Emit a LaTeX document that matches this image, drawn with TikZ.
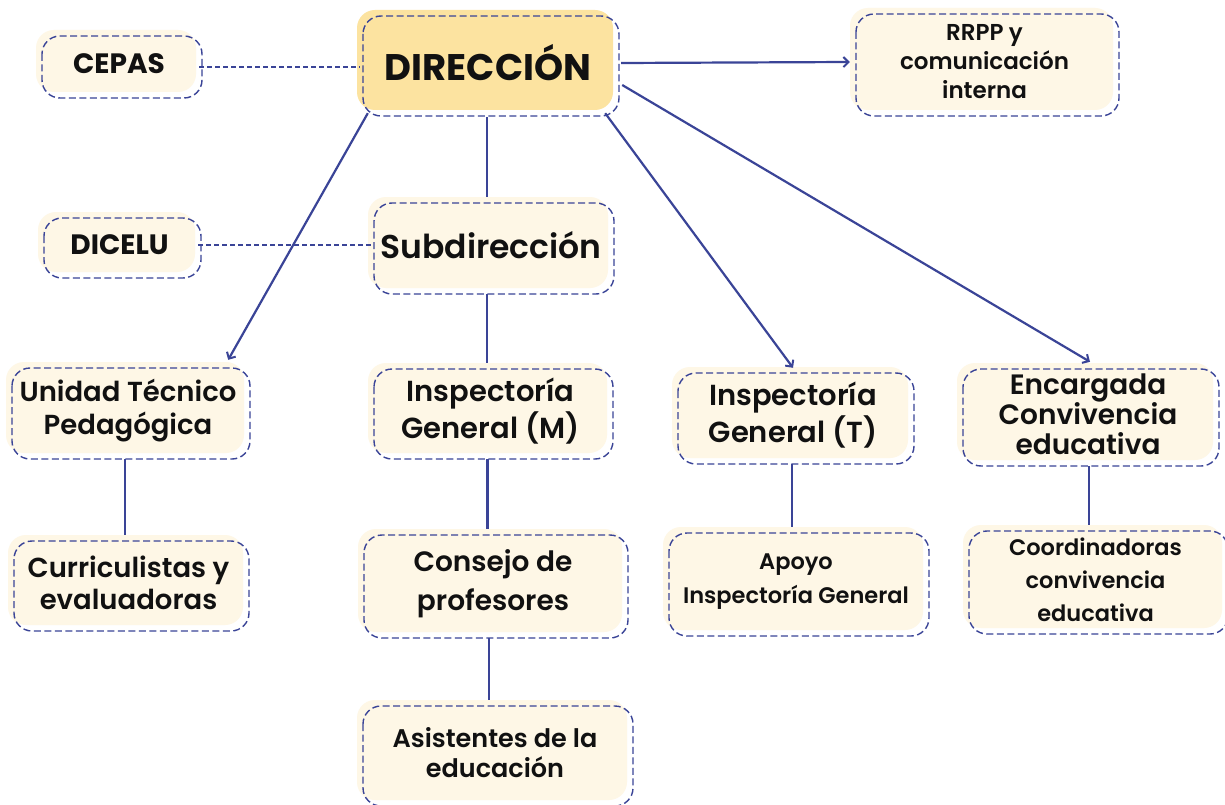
\documentclass[tikz,border=0pt]{standalone}
\usepackage{fontspec}
\setmainfont{Poppins}
\newfontfamily\popfont{Poppins}
\IfFontExistsTF{Poppins SemiBold}{\newfontfamily\txtfont{Poppins SemiBold}\newcommand\tf{\txtfont}}{%
  \IfFontExistsTF{Poppins Medium}{\newfontfamily\txtfont{Poppins Medium}\newcommand\tf{\txtfont}}{%
    \newcommand\tf{\popfont\bfseries}}}
\usetikzlibrary{arrows.meta,calc}
\definecolor{navy}{HTML}{3A4497}
\definecolor{cream}{HTML}{FEF7E6}
\definecolor{gold}{HTML}{FCE3A0}
\definecolor{ink}{HTML}{111111}
\tikzset{
  outbox/.style={draw=navy, line width=1.4pt, dash pattern=on 7pt off 3.5pt, rounded corners=18pt},
  boxnode/.style={inner sep=0pt, align=center, text=ink},
  link/.style={draw=navy, line width=2.2pt},
  dlink/.style={link, line width=1.8pt, dash pattern=on 5pt off 3pt},
  arr/.style={link, -{Straight Barb[length=5pt,width=10pt,line width=2pt]}}
}
% #1 fill, #2 name, #3 x1, #4 y1, #5 x2, #6 y2, #7 font, #8 text
\newcommand\bx[8][cream]{%
  \fill[#1, rounded corners=18pt] (#3,#4) rectangle (#5,#6);
  \draw[outbox] (#3+6,#4+6) rectangle (#5+6,#6+6);
  \node[boxnode, font={#7}, minimum width={(#5-#3)*1pt}, minimum height={(#6-#4)*1pt}]
    (#2) at ({(#3+#5)/2+3},{(#4+#6)/2+3}) {#8};
}
\begin{document}
\begin{tikzpicture}[x=1pt,y=-1pt]
\useasboundingbox (0,0) rectangle (1225,805);
\fill[white] (0,0) rectangle (1225,805);

\bx[gold]{dir}{357}{10}{613}{110}{\popfont\bfseries\fontsize{37}{42}\selectfont}{DIRECCIÓN}
\bx{cepas}{36}{30}{196}{92}{\popfont\bfseries\fontsize{28}{32}\selectfont}{CEPAS}
\bx{rrpp}{850}{8}{1113}{110}{\tf\fontsize{23}{29}\selectfont}{RRPP y\\comunicación\\interna}
\bx{dicelu}{38}{212}{195}{272}{\popfont\bfseries\fontsize{28}{32}\selectfont}{DICELU}
\bx{sub}{368}{197}{608}{288}{\tf\fontsize{33}{37}\selectfont}{Subdirección}
\bx{utp}{6}{362}{244}{453}{\tf\fontsize{27.5}{33}\selectfont}{Unidad Técnico\\Pedagógica}
\bx{curr}{8}{535}{243}{625}{\tf\fontsize{27.5}{32}\selectfont}{Curriculistas y\\evaluadoras}
\bx{inspm}{368}{363}{607}{453}{\tf\fontsize{29}{37}\selectfont}{Inspectoría\\General (M)}
\bx{consejo}{358}{529}{622}{632}{\tf\fontsize{28}{39}\selectfont}{Consejo de\\profesores}
\bx{asist}{357}{700}{627}{800}{\tf\fontsize{25.5}{30}\selectfont}{Asistentes de la\\educación}
\bx{inspt}{672}{367}{908}{458}{\tf\fontsize{29}{37}\selectfont}{Inspectoría\\General (T)}
\bx{apoyo}{663}{527}{923}{630}{\tf\fontsize{22.5}{34}\selectfont}{Apoyo\\Inspectoría General}
\bx{enc}{957}{363}{1213}{460}{\tf\fontsize{28}{30}\selectfont}{Encargada\\Convivencia\\educativa}
\bx{coord}{963}{525}{1222}{628}{\tf\fontsize{22.5}{33}\selectfont}{Coordinadoras\\convivencia\\educativa}

% dashed links
\draw[dlink] ([yshift=-3pt]cepas.east) -- ([yshift=-3pt]cepas.east -| dir.west);
\draw[dlink] (dicelu.east) -- (dicelu.east -| sub.west);
% arrows from DIRECCIÓN
\draw[arr] ([xshift=5pt]dir.east) -- ([xshift=-3pt]rrpp.west);
\draw[arr] ([shift={(8pt,0pt)}]dir.south west) -- ([shift={(-19pt,5pt)}]utp.north east);
\draw[arr] ([shift={(-11pt,0pt)}]dir.south east) -- ([yshift=2pt]inspt.north);
\draw[arr] ([shift={(6pt,-22pt)}]dir.east) -- ([shift={(2pt,4pt)}]enc.north);
% vertical links
\draw[link] ([shift={(-1pt,-4pt)}]dir.south) -- ([shift={(-1pt,3pt)}]dir.south |- sub.north);
\draw[link] ([shift={(-4pt,-3pt)}]sub.south) -- ([shift={(-4pt,3pt)}]sub.south |- inspm.north);
\draw[link] ([shift={(-3pt,-3pt)}]inspm.south) -- ([shift={(-3pt,3pt)}]inspm.south |- consejo.north);
\draw[link] ([shift={(-4pt,-3pt)}]consejo.south) -- ([shift={(-4pt,3pt)}]consejo.south |- asist.north);
\draw[link] ([shift={(-3pt,-3pt)}]utp.south) -- ([shift={(-3pt,3pt)}]utp.south |- curr.north);
\draw[link] ([shift={(-1pt,-3pt)}]inspt.south) -- ([shift={(-1pt,3pt)}]inspt.south |- apoyo.north);
\draw[link] ([shift={(1pt,-3pt)}]enc.south) -- ([shift={(1pt,3pt)}]enc.south |- coord.north);
\end{tikzpicture}
\end{document}
